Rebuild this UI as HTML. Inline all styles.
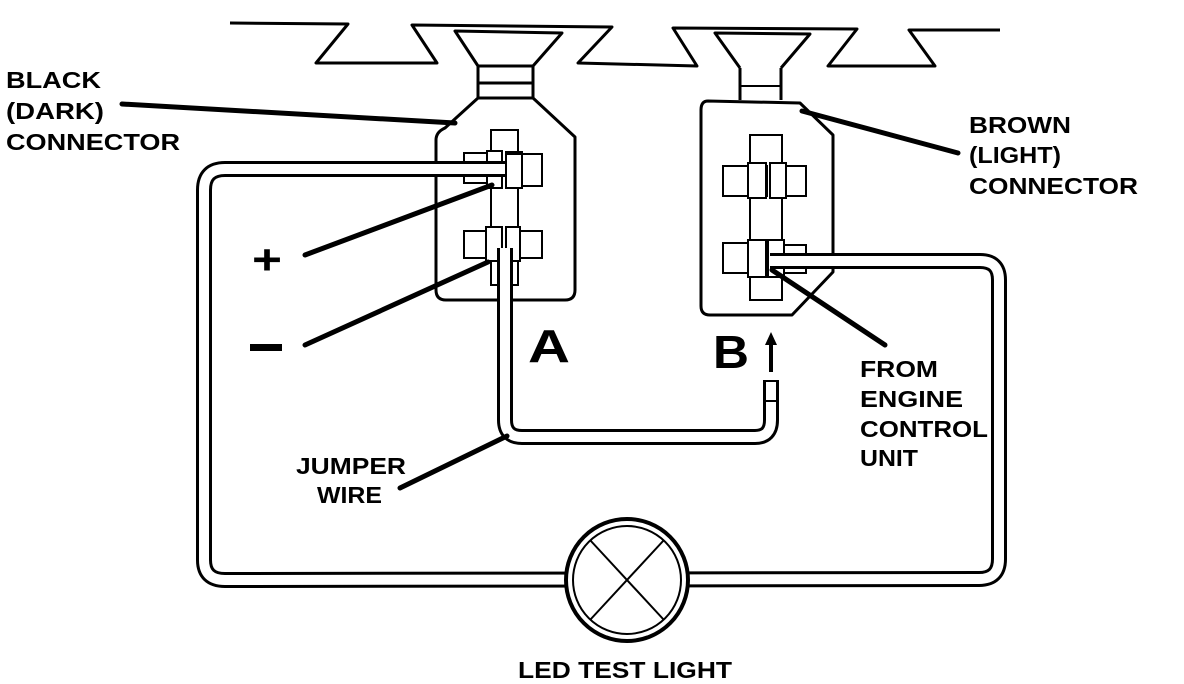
<!DOCTYPE html>
<html><head><meta charset="utf-8"><style>html,body{margin:0;padding:0;background:#fff}svg{display:block}</style></head>
<body>
<svg width="1184" height="684" viewBox="0 0 1184 684" xmlns="http://www.w3.org/2000/svg" font-family="Liberation Sans, sans-serif" font-weight="bold">
<g fill="none" stroke="#000" stroke-width="3" stroke-linejoin="round">
<polyline points="230,23 348,24 316,63 437,63 412,25 612,27 578,63 697,66 673,28 857,29 828,66 935,66 909,30 1000,30"/>
<polyline points="478,66 455,31 562,33 533,66"/>
<rect x="478" y="66" width="55" height="32"/><line x1="478" y1="83" x2="533" y2="83"/>
<polyline points="740,68 715,33 810,34 781,68"/>
<line x1="740" y1="68" x2="740" y2="100"/><line x1="781" y1="68" x2="781" y2="100"/>
<line x1="740" y1="86" x2="781" y2="86" stroke-width="2"/>
<path d="M478,98 L533,98 L575,137 L575,290 Q575,300 565,300 L446,300 Q436,300 436,290 L436,140 Q436,132 445,128 L478,98 Z"/>
<path d="M708,101 L800,103 L833,135 L833,272 L792,315 L710,315 Q701,315 701,306 L701,110 Q701,101 708,101 Z"/>
</g>
<g fill="#fff" stroke="#000" stroke-width="2">
<rect x="491" y="130" width="27" height="155"/>
<rect x="464" y="153" width="38" height="30"/><rect x="487" y="151" width="15" height="37"/>
<rect x="506" y="154" width="36" height="32"/><rect x="506" y="152" width="16" height="36"/>
<rect x="464" y="231" width="38" height="27"/><rect x="506" y="231" width="36" height="27"/>
<rect x="486" y="227" width="16" height="34"/><rect x="506" y="227" width="14" height="34"/>
<rect x="750" y="135" width="32" height="165"/>
<rect x="723" y="166" width="44" height="30"/><rect x="770" y="166" width="36" height="30"/>
<rect x="748" y="163" width="18" height="35"/><rect x="770" y="163" width="16" height="35"/>
<rect x="723" y="243" width="44" height="30"/><rect x="768" y="245" width="38" height="28"/>
<rect x="748" y="240" width="18" height="37"/><rect x="768" y="240" width="16" height="37"/>
</g>
<g fill="none" stroke-linejoin="round">
<path d="M505,169 L225,169 Q204,169 204,190 L204,560 Q204,580 225,580 L979,579 Q999,579 999,559 L999,280 Q999,261 980,261 L770,261" stroke="#000" stroke-width="16"/>
<path d="M505,169 L225,169 Q204,169 204,190 L204,560 Q204,580 225,580 L979,579 Q999,579 999,559 L999,280 Q999,261 980,261 L770,261" stroke="#fff" stroke-width="10"/>
<path d="M505,248 L505,420 Q505,437 522,437 L755,437 Q771,437 771,420 L771,380" stroke="#000" stroke-width="16"/>
<path d="M505,248 L505,420 Q505,437 522,437 L755,437 Q771,437 771,420 L771,380" stroke="#fff" stroke-width="10"/>
</g>
<line x1="764" y1="401" x2="778" y2="401" stroke="#000" stroke-width="2"/>
<line x1="764" y1="381" x2="778" y2="381" stroke="#000" stroke-width="2"/>
<g fill="#fff" stroke="#000" stroke-width="2">
<rect x="506" y="154" width="16" height="34"/>
</g>
<line x1="771" y1="372" x2="771" y2="342" stroke="#000" stroke-width="4"/>
<polygon points="765,345 771,332 777,345" fill="#000"/>
<ellipse cx="627" cy="580" rx="61" ry="61" fill="#fff" stroke="#000" stroke-width="4"/>
<ellipse cx="627" cy="580" rx="54" ry="54" fill="none" stroke="#000" stroke-width="2"/>
<line x1="590" y1="540" x2="664" y2="620" stroke="#000" stroke-width="2"/>
<line x1="664" y1="540" x2="590" y2="620" stroke="#000" stroke-width="2"/>
<g stroke="#000" stroke-width="5" stroke-linecap="round">
<line x1="122" y1="104" x2="455" y2="123"/>
<line x1="305" y1="255" x2="492" y2="185"/>
<line x1="305" y1="345" x2="488" y2="262"/>
<line x1="958" y1="153" x2="802" y2="111"/>
<line x1="885" y1="345" x2="772" y2="270"/>
<line x1="400" y1="488" x2="507" y2="436"/>
</g>
<g font-size="23" fill="#000">
<text x="6" y="88" textLength="95" lengthAdjust="spacingAndGlyphs">BLACK</text>
<text x="6" y="119" textLength="98" lengthAdjust="spacingAndGlyphs">(DARK)</text>
<text x="6" y="150" textLength="174" lengthAdjust="spacingAndGlyphs">CONNECTOR</text>
<text x="969" y="133" textLength="102" lengthAdjust="spacingAndGlyphs">BROWN</text>
<text x="969" y="163" textLength="92" lengthAdjust="spacingAndGlyphs">(LIGHT)</text>
<text x="969" y="194" textLength="169" lengthAdjust="spacingAndGlyphs">CONNECTOR</text>
<text x="860" y="377" textLength="78" lengthAdjust="spacingAndGlyphs">FROM</text>
<text x="860" y="407" textLength="103" lengthAdjust="spacingAndGlyphs">ENGINE</text>
<text x="860" y="437" textLength="128" lengthAdjust="spacingAndGlyphs">CONTROL</text>
<text x="860" y="466" textLength="58" lengthAdjust="spacingAndGlyphs">UNIT</text>
<text x="296" y="474" textLength="110" lengthAdjust="spacingAndGlyphs">JUMPER</text>
<text x="317" y="503" textLength="65" lengthAdjust="spacingAndGlyphs">WIRE</text>
<text x="518" y="678" textLength="214" lengthAdjust="spacingAndGlyphs">LED TEST LIGHT</text>
</g>
<text x="252" y="274" font-size="42" textLength="30" lengthAdjust="spacingAndGlyphs">+</text>
<rect x="250" y="344" width="32" height="7" fill="#000"/>
<text x="528" y="362" font-size="46" textLength="42" lengthAdjust="spacingAndGlyphs">A</text>
<text x="713" y="368" font-size="46" textLength="36" lengthAdjust="spacingAndGlyphs">B</text>
</svg>
</body></html>
